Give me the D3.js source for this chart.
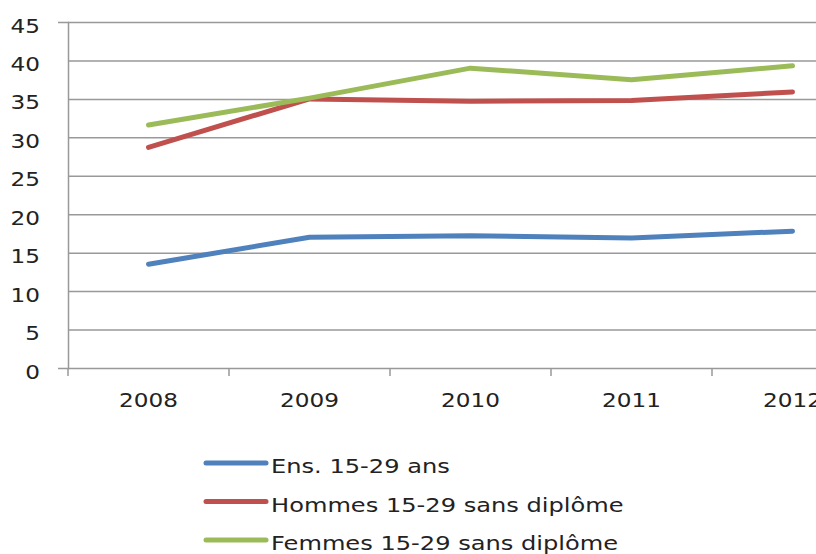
<!DOCTYPE html>
<html>
<head>
<meta charset="utf-8">
<script src="https://d3js.org/d3.v7.min.js"></script>
<style>
  body { margin: 0; background: #fff; overflow: hidden; }
  text { font-family: "DejaVu Sans", sans-serif; fill: #222; }
</style>
</head>
<body>
<div id="chart"></div>
<script>
// Data
var years = ["2008", "2009", "2010", "2011", "2012"];
var yTicks = [0, 5, 10, 15, 20, 25, 30, 35, 40, 45];
var seriesNames = ["Ens. 15-29 ans", "Hommes 15-29 sans diplôme", "Femmes 15-29 sans diplôme"];
var ensValues = [13.5, 17.0, 17.2, 16.9, 17.8];
var hommesValues = [28.7, 35.0, 34.7, 34.8, 35.9];
var femmesValues = [31.6, 35.1, 39.0, 37.5, 39.3];
var colors = ["#4f81bd", "#c0504d", "#9bbb59"];

var series = [ensValues, hommesValues, femmesValues].map(function(v, i) {
    return { name: seriesNames[i], values: v, color: colors[i] };
});

// Dimensions
var margin = {top: 22, left: 68},
    plotW = 805,          // plot runs past the right edge of the page
    plotH = 346;
var stretch = 1.22;       // the original text is drawn wide

var svg = d3.select("#chart")
    .append("svg")
        .attr("width", 816)
        .attr("height", 554);

var g = svg.append("g")
    .attr("transform", "translate(" + margin.left + "," + margin.top + ")");

// Scales
var x = d3.scaleBand()
    .domain(years)
    .range([0, plotW]);

var y = d3.scaleLinear()
    .domain([0, 45])
    .range([plotH, 0]);

// Horizontal gridlines + y axis
var yAxis = g.append("g")
    .call(d3.axisLeft(y).tickValues(yTicks).tickSize(10));
yAxis.select(".domain").attr("stroke", "#999").attr("stroke-width", 1.5);
yAxis.selectAll(".tick line")
    .attr("x2", plotW)
    .attr("stroke", "#999")
    .attr("stroke-width", 1.5);
yAxis.selectAll(".tick text")
    .attr("x", null).attr("dy", null)
    .attr("transform", "translate(-28,10) scale(" + stretch + ",1)")
    .style("font-size", "19px")
    .attr("fill", "#222");

// X axis
var xAxis = g.append("g")
    .attr("transform", "translate(0," + plotH + ")")
    .call(d3.axisBottom(x).tickSize(0));
xAxis.select(".domain").remove();
xAxis.selectAll(".tick text")
    .attr("y", null).attr("dy", null)
    .attr("transform", "translate(0,39) scale(" + stretch + ",1)")
    .style("font-size", "19px")
    .attr("fill", "#222");

// Tick marks between categories
var bounds = d3.range(years.length + 1).map(function(i) { return i * x.step(); });
g.append("g")
    .selectAll("line")
    .data(bounds)
    .enter().append("line")
    .attr("x1", function(d) { return d; })
    .attr("x2", function(d) { return d; })
    .attr("y1", plotH)
    .attr("y2", plotH + 8)
    .attr("stroke", "#999")
    .attr("stroke-width", 1.5);

// Lines
var line = d3.line()
    .x(function(d, i) { return x(years[i]) + x.bandwidth() / 2; })
    .y(function(d) { return y(d); });

g.append("g")
    .selectAll("path")
    .data(series)
    .enter().append("path")
    .attr("d", function(d) { return line(d.values); })
    .attr("fill", "none")
    .attr("stroke", function(d) { return d.color; })
    .attr("stroke-width", 5)
    .attr("stroke-linecap", "round")
    .attr("stroke-linejoin", "round");

// Legend
var legend = svg.append("g")
    .attr("transform", "translate(206,463)");

var items = legend.selectAll("g")
    .data(series)
    .enter().append("g")
    .attr("transform", function(d, i) { return "translate(0," + (i * 38.5) + ")"; });

items.append("line")
    .attr("x1", 0)
    .attr("x2", 60)
    .attr("stroke", function(d) { return d.color; })
    .attr("stroke-width", 5)
    .attr("stroke-linecap", "round");

items.append("text")
    .attr("transform", "translate(65,10) scale(1.27,1)")
    .style("font-size", "19px")
    .text(function(d) { return d.name; });
</script>
</body>
</html>
